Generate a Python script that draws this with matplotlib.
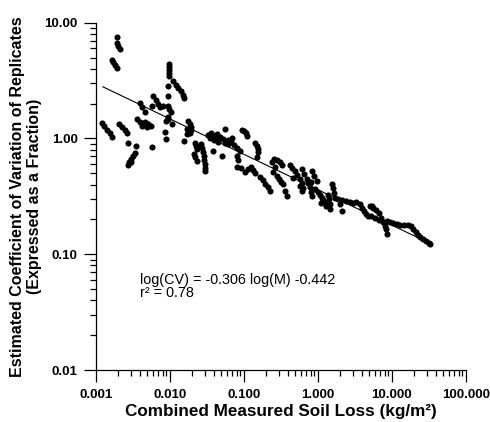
import math
import matplotlib
matplotlib.use("Agg")
import matplotlib.pyplot as plt
from matplotlib.ticker import LogLocator, NullFormatter

plt.rcParams["font.family"] = ["Liberation Sans", "DejaVu Sans"]

# ---- data ----
soil_loss = [
    0.00194, 0.00194, 0.00203, 0.00213, 0.00164, 0.00174, 0.00185, 0.00197,
    0.0098, 0.0098, 0.0098, 0.0098, 0.0098, 0.0095, 0.0111, 0.0120, 0.01295, 0.0140,
    0.0149, 0.0156, 0.0094, 0.0096, 0.0099, 0.0104, 0.0094, 0.0096, 0.0106, 0.00883,
    0.0086, 0.0088,
    0.00122, 0.00131, 0.00142, 0.00154, 0.00166, 0.00206, 0.00227, 0.00249, 0.00269,
    0.00361, 0.00391, 0.00422, 0.00464, 0.00509, 0.00559, 0.00493, 0.00397, 0.00429,
    0.00464, 0.00571, 0.00595, 0.00643, 0.00695, 0.00739, 0.00819, 0.00273, 0.0035,
    0.00582, 0.0034, 0.00319, 0.0030, 0.00282, 0.00273, 0.0030, 0.0158,
    0.0177, 0.0188, 0.0194, 0.0197, 0.0188, 0.0171, 0.0170, 0.0220, 0.0227, 0.0232,
    0.0213, 0.0223, 0.0232, 0.0265, 0.0277, 0.0286, 0.0291, 0.0295, 0.0300, 0.0300,
    0.0300, 0.0329, 0.0361, 0.0397, 0.0436, 0.0478, 0.0525, 0.0350, 0.0559, 0.0388,
    0.0504, 0.0614, 0.0673, 0.0739, 0.0812, 0.0891, 0.0695, 0.0804, 0.0837, 0.0804,
    0.0919, 0.094, 0.0995, 0.106, 0.112, 0.104, 0.114, 0.1255, 0.134, 0.142, 0.142,
    0.149, 0.154, 0.150, 0.158,
    0.166, 0.180, 0.194, 0.210, 0.227, 0.239, 0.257, 0.282, 0.309, 0.329, 0.251,
    0.265, 0.279, 0.300, 0.319, 0.343, 0.361, 0.381, 0.422, 0.456, 0.493, 0.468,
    0.533, 0.576, 0.614, 0.639, 0.576, 0.608, 0.608, 0.653, 0.710, 0.830, 0.891,
    0.969, 0.746, 0.775, 0.800, 0.830, 0.919, 0.994, 1.074, 1.14, 1.19, 0.819,
    1.55, 1.61, 1.66, 1.71, 2.00, 2.11, 1.88, 2.13, 2.41, 2.73, 3.03, 3.34, 3.73,
    3.97, 4.29, 4.56, 4.83, 5.37, 5.09, 5.59, 6.14, 6.73, 5.25, 5.95, 6.73, 7.28,
    7.63, 8.00, 8.37, 8.56, 8.63, 9.48, 10.4, 11.7, 13.0, 14.7, 16.6, 18.0, 19.4,
    21.0, 22.7, 24.1, 26.5, 29.1, 31.9, 33.4, 1.39, 1.42, 1.47, 1.255, 1.295, 1.47,
    1.11,
    # extra dots in the dense middle band
    0.0400, 0.0450, 0.0560, 0.0620, 0.0260, 0.0420,
]
cv = [
    7.55, 6.70, 6.32, 5.95, 4.78, 4.55, 4.33, 4.08,
    4.42, 4.16, 3.92, 3.69, 3.48, 2.85, 3.15, 2.91, 2.71, 2.56,
    2.38, 2.25, 2.34, 1.92, 1.80, 1.70, 1.52, 1.48, 1.33, 1.42,
    1.14, 0.99,
    1.37, 1.27, 1.19, 1.11, 1.02, 1.33, 1.25, 1.18, 1.11,
    1.47, 1.38, 1.29, 1.39, 1.34, 1.29, 1.26, 2.03, 1.86,
    1.70, 1.92, 2.34, 2.16, 1.99, 1.86, 1.92, 0.918, 0.865,
    0.836, 0.752, 0.709, 0.668, 0.629, 0.593, 0.629, 0.955,
    1.42, 1.34, 1.26, 1.19, 1.12, 1.21, 1.09, 0.918, 0.865, 0.809,
    0.738, 0.688, 0.642, 0.900, 0.831, 0.768, 0.709, 0.655, 0.605, 0.558,
    0.526, 1.08, 1.12, 1.05, 1.10, 1.03, 0.994, 1.01, 1.21, 0.783,
    0.709, 0.974, 0.937, 0.882, 0.831, 0.783, 1.01, 0.709, 0.655, 0.562,
    0.555, 1.19, 1.15, 1.11, 1.05, 0.516, 0.547, 0.570, 0.537, 0.506, 0.918,
    0.865, 0.807, 0.685, 0.757,
    0.467, 0.436, 0.406, 0.379, 0.353, 0.629, 0.661, 0.655, 0.629, 0.593, 0.509,
    0.562, 0.476, 0.449, 0.423, 0.404, 0.353, 0.320, 0.593, 0.558, 0.526, 0.460,
    0.486, 0.449, 0.414, 0.377, 0.390, 0.353, 0.544, 0.496, 0.446, 0.526, 0.476,
    0.431, 0.414, 0.379, 0.347, 0.320, 0.366, 0.347, 0.326, 0.307, 0.293, 0.417,
    0.404, 0.371, 0.340, 0.309, 0.271, 0.237, 0.302, 0.296, 0.289, 0.284, 0.278, 0.281, 0.271,
    0.252, 0.235, 0.224, 0.215, 0.262, 0.262, 0.252, 0.240, 0.228, 0.213, 0.205, 0.197, 0.207,
    0.191, 0.176, 0.166, 0.149, 0.195, 0.191, 0.187, 0.182, 0.180, 0.178, 0.180, 0.174, 0.164,
    0.155, 0.146, 0.140, 0.135, 0.130, 0.1245, 0.122, 0.326, 0.298, 0.273, 0.284, 0.262, 0.245,
    0.278,
    0.97, 0.93, 0.92, 0.90, 0.86, 1.0,
]

# regression: log(CV) = -0.306 log(M) - 0.442
slope = -0.306
intercept = -0.442
fit_range = [0.00125, 33.0]

x_ticks = [0.001, 0.01, 0.1, 1, 10, 100]
x_tick_labels = ["0.001", "0.010", "0.100", "1.000", "10.000", "100.000"]
y_ticks = [0.01, 0.1, 1, 10]
y_tick_labels = ["0.01", "0.10", "1.00", "10.00"]

fig = plt.figure(figsize=(4.9, 4.22), dpi=100)
ax = fig.add_axes([0.1953, 0.1232, 0.7551, 0.823])
ax.set_xscale("log")
ax.set_yscale("log")

ax.plot(soil_loss, cv, "o", color="black", ms=4.4, mew=0, linestyle="none")
fit_y = [10 ** (slope * math.log10(m) + intercept) for m in fit_range]
ax.plot(fit_range, fit_y, color="black", lw=0.8)

ax.set_xlim(0.001, 100)
ax.set_ylim(0.01, 10)

for s in ("top", "right"):
    ax.spines[s].set_visible(False)
for s in ("left", "bottom"):
    ax.spines[s].set_linewidth(0.9)

ax.set_xticks(x_ticks)
ax.set_xticklabels(x_tick_labels)
ax.set_yticks(y_ticks)
ax.set_yticklabels(y_tick_labels)
ax.xaxis.set_minor_locator(LogLocator(base=10, subs=range(2, 10)))
ax.yaxis.set_minor_locator(LogLocator(base=10, subs=range(2, 10)))
ax.xaxis.set_minor_formatter(NullFormatter())
ax.yaxis.set_minor_formatter(NullFormatter())
ax.tick_params(which="major", direction="out", length=8.5, width=0.9)
ax.tick_params(axis="y", which="major", pad=4.5)
ax.tick_params(axis="x", which="major", pad=5.5)
ax.tick_params(which="minor", direction="out", length=4, width=0.9)
for lab in ax.get_xticklabels() + ax.get_yticklabels():
    lab.set_fontweight("bold")
    lab.set_fontsize(9.5)

ax.set_xlabel("Combined Measured Soil Loss (kg/m²)", fontsize=12.3, fontweight="bold", labelpad=1.5)
ax.set_ylabel("Estimated Coefficient of Variation of Replicates\n(Expressed as a Fraction)",
              fontsize=11.5, fontweight="bold", labelpad=2, linespacing=1.15)

ax.text(0.12, 0.259, "log(CV) = -0.306 log(M) -0.442", transform=ax.transAxes,
        fontsize=10.4, va="center", ha="left")
ax.text(0.12, 0.222, "r² = 0.78", transform=ax.transAxes,
        fontsize=10.4, va="center", ha="left")

fig.savefig("out.png", dpi=100)
